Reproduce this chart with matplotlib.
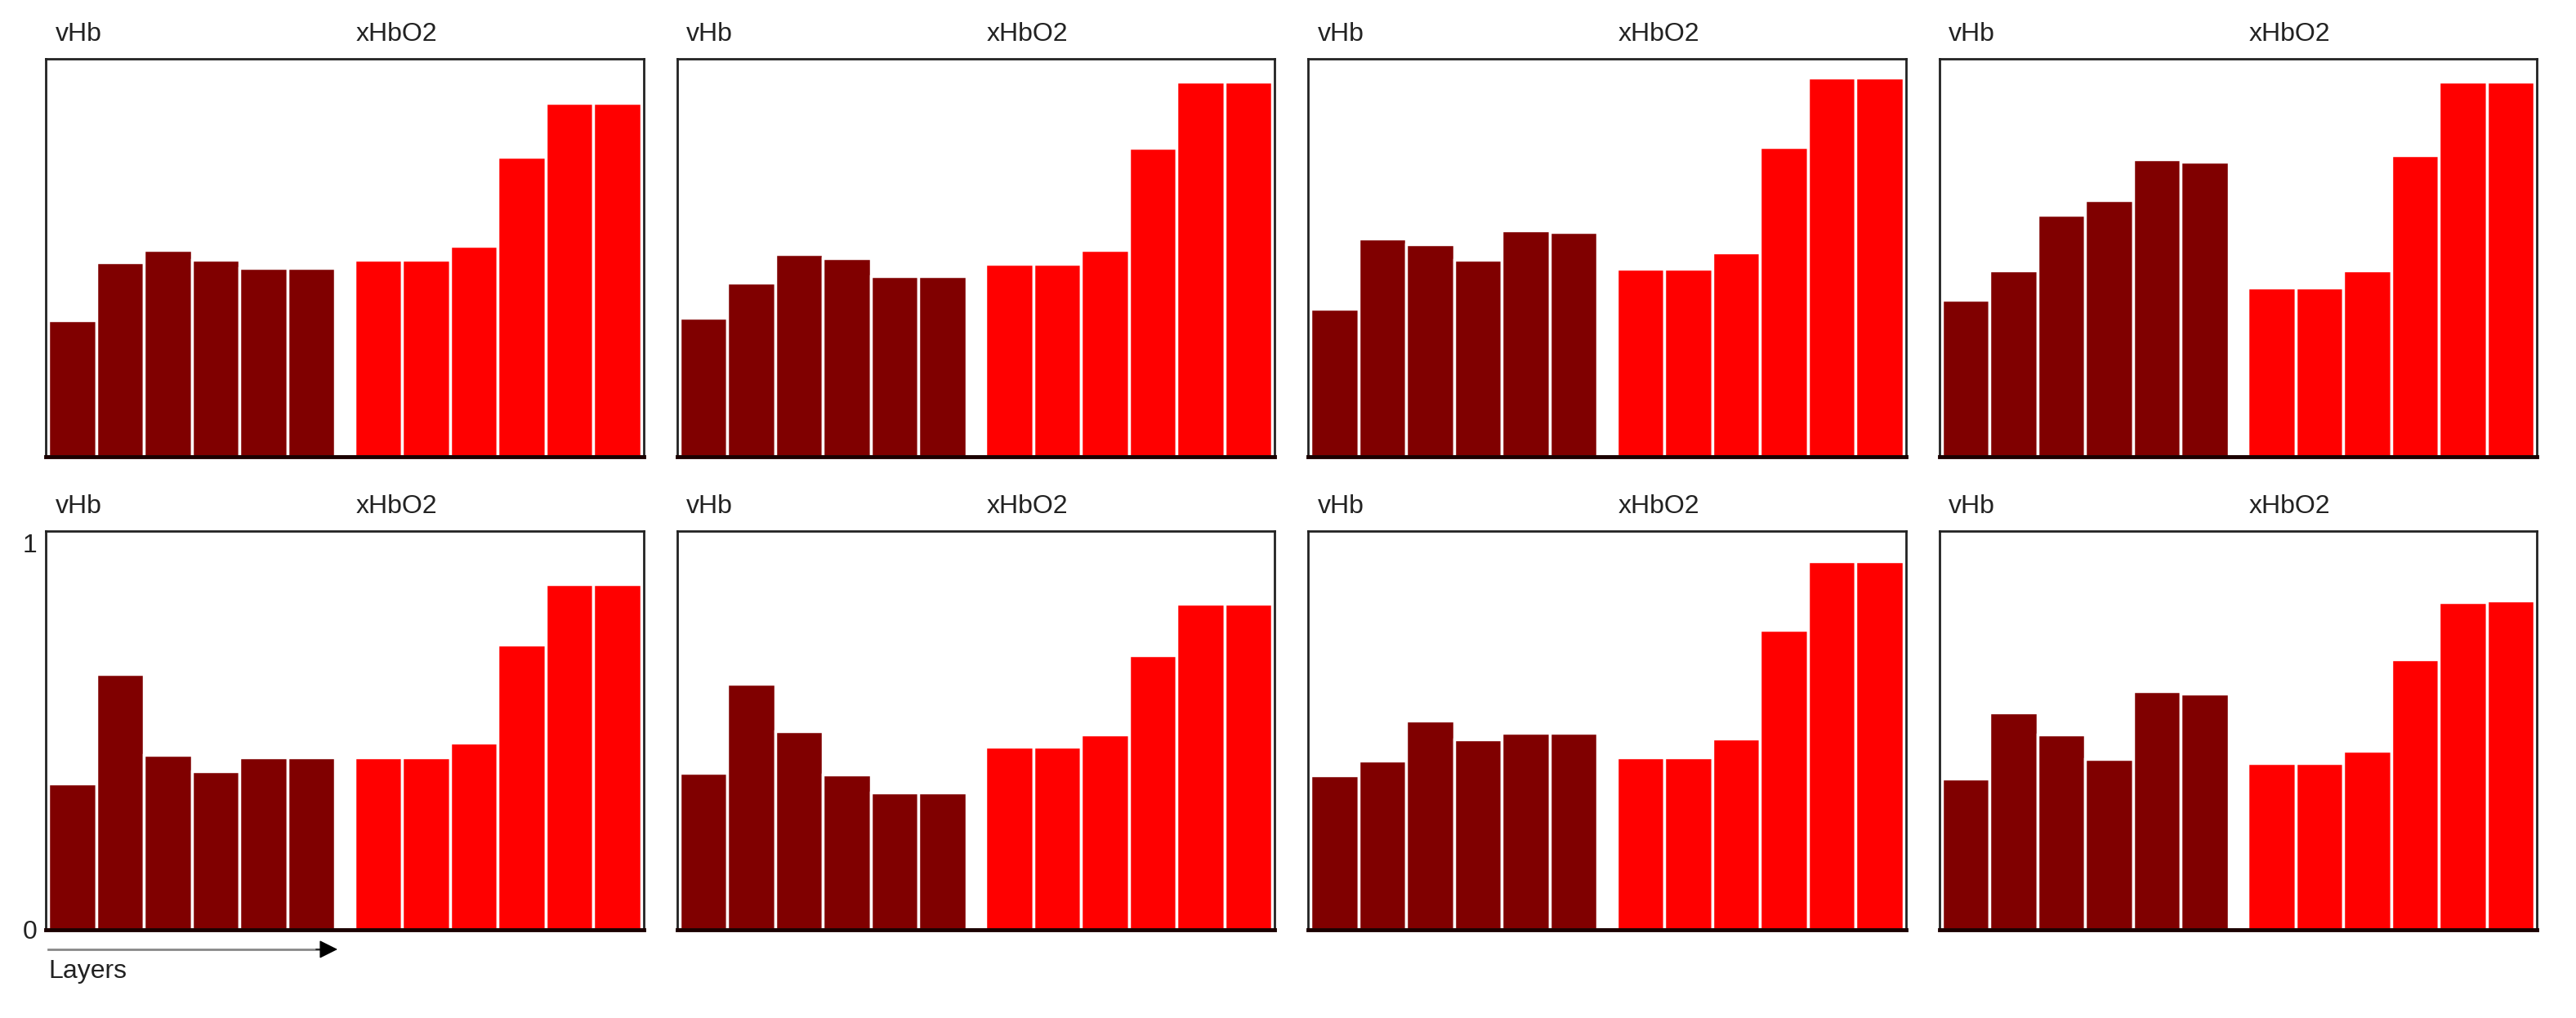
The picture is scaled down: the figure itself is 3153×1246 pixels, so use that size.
import matplotlib
matplotlib.use('Agg')
import matplotlib.pyplot as plt
import numpy as np

plt.rcParams['font.family'] = ['Liberation Sans', 'DejaVu Sans']

# bar heights, one row per panel (left->right, top->bottom)
vhb = [
    [0.353, 0.505, 0.535, 0.511, 0.489, 0.489],
    [0.360, 0.452, 0.525, 0.515, 0.468, 0.468],
    [0.384, 0.565, 0.551, 0.510, 0.586, 0.582],
    [0.406, 0.484, 0.627, 0.664, 0.770, 0.764],
    [0.378, 0.661, 0.452, 0.410, 0.445, 0.445],
    [0.406, 0.636, 0.513, 0.401, 0.355, 0.355],
    [0.399, 0.436, 0.540, 0.492, 0.508, 0.508],
    [0.391, 0.562, 0.504, 0.442, 0.616, 0.610],
]
xhbo2 = [
    [0.510, 0.510, 0.547, 0.776, 0.917, 0.917],
    [0.499, 0.499, 0.535, 0.800, 0.971, 0.971],
    [0.487, 0.487, 0.529, 0.802, 0.981, 0.981],
    [0.438, 0.438, 0.484, 0.782, 0.971, 0.971],
    [0.445, 0.445, 0.483, 0.737, 0.894, 0.894],
    [0.473, 0.473, 0.504, 0.709, 0.842, 0.842],
    [0.445, 0.445, 0.493, 0.775, 0.952, 0.952],
    [0.430, 0.430, 0.463, 0.698, 0.846, 0.851],
]
group_labels = ['vHb', 'xHbO2']
y_ticks = [0, 1]

gap = 0.4
x1 = np.arange(6)
x2 = np.arange(6) + 6 + gap

fig = plt.figure(figsize=(31.53, 12.46), dpi=100)

left0 = 0.0178
w = 0.232
step = 0.245
rows = [(0.551, 0.391), (0.087, 0.391)]

for k in range(8):
    r, c = divmod(k, 4)
    b, h = rows[r]
    ax = fig.add_axes([left0 + c * step, b, w, h])
    ax.bar(x1, vhb[k], width=1.0, color='#800000', edgecolor='white', linewidth=2.5)
    ax.bar(x2, xhbo2[k], width=1.0, color='#ff0000', edgecolor='white', linewidth=2.5)
    ax.set_xlim(-0.55, 11.95)
    ax.set_ylim(0, 1.03)
    ax.set_xticks([])
    for s in ax.spines.values():
        s.set_color('#222222')
        s.set_linewidth(2)
    ax.spines['bottom'].set_color('#1a0000')
    ax.spines['bottom'].set_linewidth(3.5)
    ax.text(-0.35, 1.045, group_labels[0], transform=ax.get_xaxis_transform(),
            fontsize=23, va='baseline', ha='left', color='#222222')
    ax.text(5.93, 1.045, group_labels[1], transform=ax.get_xaxis_transform(),
            fontsize=23, va='baseline', ha='left', color='#222222')
    if k == 4:
        ax.set_yticks(y_ticks)
        ax.set_yticklabels([str(t) for t in y_ticks], fontsize=23, color='#222222')
        ax.tick_params(axis='y', length=0, pad=8)
        # "Layers" arrow under the vHb group: grey shaft, black head
        ax.plot([-0.5, 5.2], [-0.05, -0.05], color='#888888', lw=2,
                transform=ax.get_xaxis_transform(), clip_on=False)
        ax.annotate('', xy=(5.55, -0.05), xytext=(5.1, -0.05),
                    xycoords=ax.get_xaxis_transform(),
                    arrowprops=dict(arrowstyle='-|>', color='black', lw=1,
                                    mutation_scale=35, shrinkA=0, shrinkB=0),
                    annotation_clip=False)
        ax.text(-0.5, -0.105, 'Layers', transform=ax.get_xaxis_transform(),
                fontsize=23, va='center', ha='left', color='#222222')
    else:
        ax.set_yticks([])

fig.savefig('out.png', dpi=100)
